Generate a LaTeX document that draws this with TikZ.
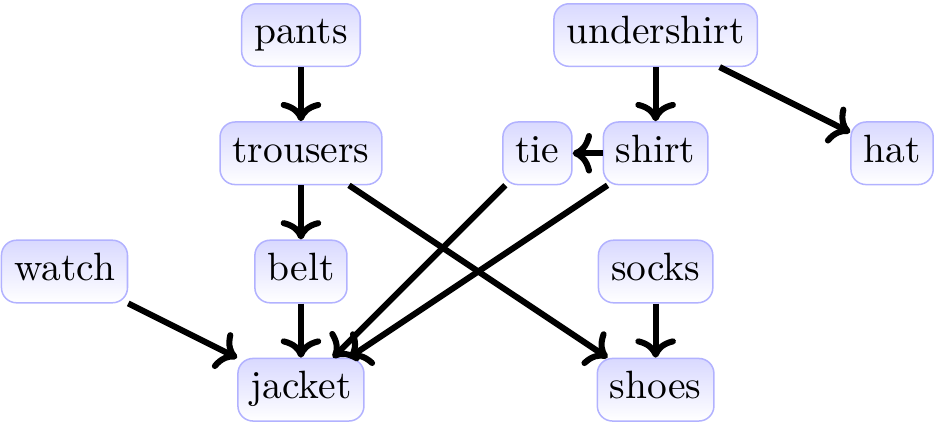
\documentclass[tikz,border=0pt]{standalone}
\usepackage{tikz}
\usetikzlibrary{arrows.meta, positioning}
\tikzset{
    item/.style={rectangle, draw=blue!30, rounded corners, top color=blue!15, bottom color=white, font=\fontsize{10.45}{12}\selectfont, text height=7.3pt, text depth=2.6pt},
    arrow/.style={ultra thick, ->}
}
\begin{document}
\begin{tikzpicture}[node distance=1.1cm, on grid]
\useasboundingbox (-2.80,0.326) rectangle (5.89,-3.637);

% Top row
\node[item] (pants) at (0,0) {pants};
\node[item] (undershirt) [right=3.3cm of pants] {undershirt};

% Second row
\node[item] (trousers) [below=of pants] {trousers};
\node[item] (shirt) [below=of undershirt] {shirt};
\node[item] (tie) [left=of shirt] {tie};
\node[item] (hat) [right=2.2cm of shirt] {hat};

% Third row
\node[item] (belt) [below=of trousers] {belt};
\node[item] (watch) [left=2.2cm of belt] {watch};
\node[item] (socks) [below=of shirt] {socks};

% Bottom row
\node[item] (jacket) [below=of belt] {jacket};
\node[item] (shoes) [below=of socks] {shoes};

% Dependencies
\draw[arrow] (pants) -- (trousers);
\draw[arrow] (trousers) -- (belt);
\draw[arrow] (belt) -- (jacket);
\draw[arrow] (trousers) -- (shoes);
\draw[arrow] (watch) -- (jacket);
\draw[arrow] (undershirt) -- (shirt);
\draw[arrow] (undershirt) -- (hat);
\draw[arrow] (shirt) -- (tie);
\draw[arrow] (tie) -- (jacket);
\draw[arrow] (shirt) -- (jacket);
\draw[arrow] (socks) -- (shoes);

\end{tikzpicture}
\end{document}
